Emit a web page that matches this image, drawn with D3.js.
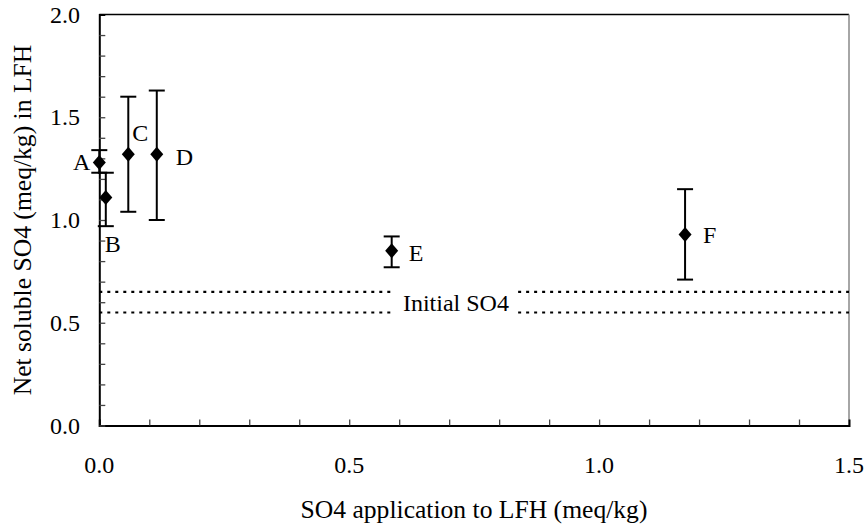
<!DOCTYPE html>
<html>
<head>
<meta charset="utf-8">
<script src="https://cdn.jsdelivr.net/npm/d3@7"></script>
<style>
  html, body { margin: 0; padding: 0; background: #fff; }
</style>
</head>
<body>
<svg id="chart" width="866" height="529"></svg>
<script>
// ---- data ----
const pointLabels = ["A", "B", "C", "D", "E", "F"];
const so4Applied = [0.0, 0.013, 0.058, 0.115, 0.585, 1.172];
const netSoluble = [1.28, 1.11, 1.32, 1.32, 0.85, 0.93];
const errLow = [1.23, 0.97, 1.04, 1.00, 0.77, 0.71];
const errHigh = [1.34, 1.23, 1.60, 1.63, 0.92, 1.15];
const initialSO4 = [0.55, 0.65];
const xTicks = [0.0, 0.5, 1.0, 1.5];
const yTicks = [0.0, 0.5, 1.0, 1.5, 2.0];
const xTitle = "SO4 application to LFH (meq/kg)";
const yTitle = "Net soluble SO4 (meq/kg) in LFH";
const refLabel = "Initial SO4";

// ---- layout ----
const W = 866, H = 529;
const L = 99.3, R = 849, T = 14.5, B = 425.5;
const FONT = "Liberation Serif";
const labelOffsets = [[-9, 0, "end"], [-1, 47, "start"], [4, -21, "start"], [19, 3, "start"], [17, 2, "start"], [18, 1, "start"]];

const svg = d3.select("#chart");
svg.append("rect").attr("width", W).attr("height", H).attr("fill", "#fff");

const x = d3.scaleLinear().domain([0, 1.5]).range([L, R]);
const y = d3.scaleLinear().domain([0, 2]).range([B, T]);

// frame: top and right
svg.append("line").attr("x1", L).attr("x2", R).attr("y1", T).attr("y2", T)
  .attr("stroke", "#000").attr("stroke-width", 1.3);
svg.append("line").attr("x1", R).attr("x2", R).attr("y1", T).attr("y2", B)
  .attr("stroke", "#888").attr("stroke-width", 1.5);

// minor ticks (inward, every 0.1)
const xMinor = d3.range(0, 15).map(i => i / 10);
const yMinor = d3.range(0, 20).map(i => i / 10);
const xAxis = d3.axisBottom(x).tickValues(xMinor).tickSize(-6).tickFormat("");
const yAxis = d3.axisLeft(y).tickValues(yMinor).tickSize(-6).tickFormat("");
const gx = svg.append("g").attr("transform", `translate(0,${B})`).call(xAxis);
const gy = svg.append("g").attr("transform", `translate(${L},0)`).call(yAxis);
[gx, gy].forEach(g => {
  g.attr("font-family", null).attr("font-size", null);
  g.selectAll("text").remove();
  g.select(".domain").attr("stroke", "#000").attr("stroke-width", 2);
  g.selectAll(".tick line").attr("stroke", "#444").attr("stroke-width", 1.3);
});

// initial SO4 dotted lines with gap
const gapL = x(0.585), gapR = x(0.838);
initialSO4.forEach(v => {
  [[L, gapL], [gapR, R]].forEach(([a, b]) => {
    svg.append("line").attr("x1", a).attr("x2", b).attr("y1", y(v)).attr("y2", y(v))
      .attr("stroke", "#000").attr("stroke-width", 2.2).attr("stroke-dasharray", "3,5");
  });
});

// error bars
const pts = pointLabels.map((l, i) => ({ l, x: so4Applied[i], y: netSoluble[i], lo: errLow[i], hi: errHigh[i], off: labelOffsets[i] }));
const eb = svg.append("g").attr("stroke", "#000").attr("stroke-width", 2);
pts.forEach(p => {
  eb.append("line").attr("x1", x(p.x)).attr("x2", x(p.x)).attr("y1", y(p.lo)).attr("y2", y(p.hi));
  [p.lo, p.hi].forEach(v => eb.append("line").attr("x1", x(p.x) - 8).attr("x2", x(p.x) + 8)
    .attr("y1", y(v)).attr("y2", y(v)));
});

// diamonds
svg.append("g").selectAll("path").data(pts).join("path")
  .attr("transform", d => `translate(${x(d.x)},${y(d.y)})`)
  .attr("d", "M0,-7.5L6.5,0L0,7.5L-6.5,0Z").attr("fill", "#000");

// ---- all text in one serif group ----
const tg = svg.append("g").attr("font-family", FONT).style("font-family", FONT);
function txt(sel, size) {
  return sel.attr("font-family", FONT).style("font-family", FONT)
    .attr("font-size", size).style("font-size", size + "px").attr("fill", "#000");
}

// tick labels
txt(tg.append("g").selectAll("text").data(xTicks).join("text"), 24)
  .attr("x", d => x(d)).attr("y", 473).attr("text-anchor", "middle")
  .text(d => d.toFixed(1));
txt(tg.append("g").selectAll("text").data(yTicks).join("text"), 24)
  .attr("x", 80).attr("y", d => y(d) + 8).attr("text-anchor", "end")
  .text(d => d.toFixed(1));

// axis titles
txt(tg.append("text"), 25.6).attr("x", 474).attr("y", 518).attr("text-anchor", "middle")
  .text(xTitle);
txt(tg.append("text"), 25.6).attr("transform", `translate(31,${(T + B) / 2}) rotate(-90)`)
  .attr("text-anchor", "middle").text(yTitle);

// reference label
txt(tg.append("text"), 24).attr("x", (gapL + gapR) / 2 + 1).attr("y", y(d3.mean(initialSO4)) + 9)
  .attr("text-anchor", "middle").text(refLabel);

// point labels
txt(tg.append("g").selectAll("text").data(pts).join("text"), 24)
  .attr("x", d => x(d.x) + d.off[0]).attr("y", d => y(d.y) + d.off[1] + 8)
  .attr("text-anchor", d => d.off[2]).text(d => d.l);
</script>
</body>
</html>
